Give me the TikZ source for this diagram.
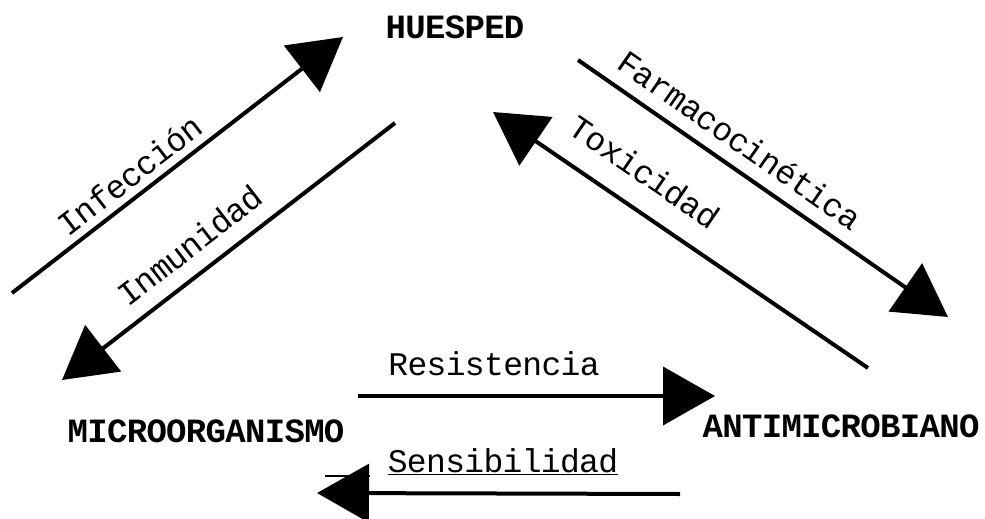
\documentclass[tikz,border=0pt]{standalone}
\usepackage{fontspec}
\newfontfamily\letra[LetterSpace=-2]{Liberation Mono}
\usepackage{tikz}
\usetikzlibrary{arrows.meta}
\usetikzlibrary{positioning}

\begin{document}
\begin{tikzpicture}[
        x=1pt, y=-1pt,
        polo/.style = {font=\letra\bfseries\fontsize{34}{40}\selectfont, inner sep=0pt},
        rotulo/.style = {font=\letra\fontsize{33}{40}\selectfont, inner sep=0pt},
        flecha/.style = {line width=4pt, -{Triangle[length=52pt, width=58pt]}}
        ]
    \useasboundingbox (0,0) rectangle (985,519);
    % los tres polos
    \node[polo] (huesped) at (455,27) {HUESPED};
    \node[polo] (micro) at (206,431) {MICROORGANISMO};
    \node[polo] (anti) at (841,426) {ANTIMICROBIANO};
    % extremos de las flechas
    \coordinate (inf1) at (12,293);
    \coordinate (inf2) at (343,37);
    \coordinate (inm1) at (395,123);
    \coordinate (inm2) at (62,380);
    \coordinate (far1) at (578,60);
    \coordinate (far2) at (948,317);
    \coordinate (tox1) at (868,368);
    \coordinate (tox2) at (493,112);
    \coordinate (res1) at (358,396);
    \coordinate (res2) at (715,396);
    \coordinate (sen1) at (680,494);
    \coordinate (sen2) at (317,493);
    \coordinate (raya1) at (325,476);
    \coordinate (raya2) at (370,476);
    \draw[flecha] (inf1) -- (inf2);
    \draw[flecha] (inm1) -- (inm2);
    \draw[flecha] (far1) -- (far2);
    \draw[flecha] (tox1) -- (tox2);
    \draw[flecha] (res1) -- (res2);
    \draw[flecha] (sen1) -- (sen2);
    \draw[line width=2pt] (raya1) -- (raya2);
    % rotulos
    \node[rotulo, rotate=37.7] (infeccion) at (130,175) {Infección};
    \node[rotulo, rotate=37.7] (inmunidad) at (190,245) {Inmunidad};
    \node[rotulo, rotate=-34.8] (farmaco) at (740,140) {Farmacocinética};
    \node[rotulo, rotate=-34.3] (toxicidad) at (645,172) {Toxicidad};
    \node[rotulo, anchor=base] (resist) at (494,375) {Resistencia};
    \node[rotulo, anchor=base] (sensib) at (503,472) {\underline{Sensibilidad}};
\end{tikzpicture}
\end{document}
